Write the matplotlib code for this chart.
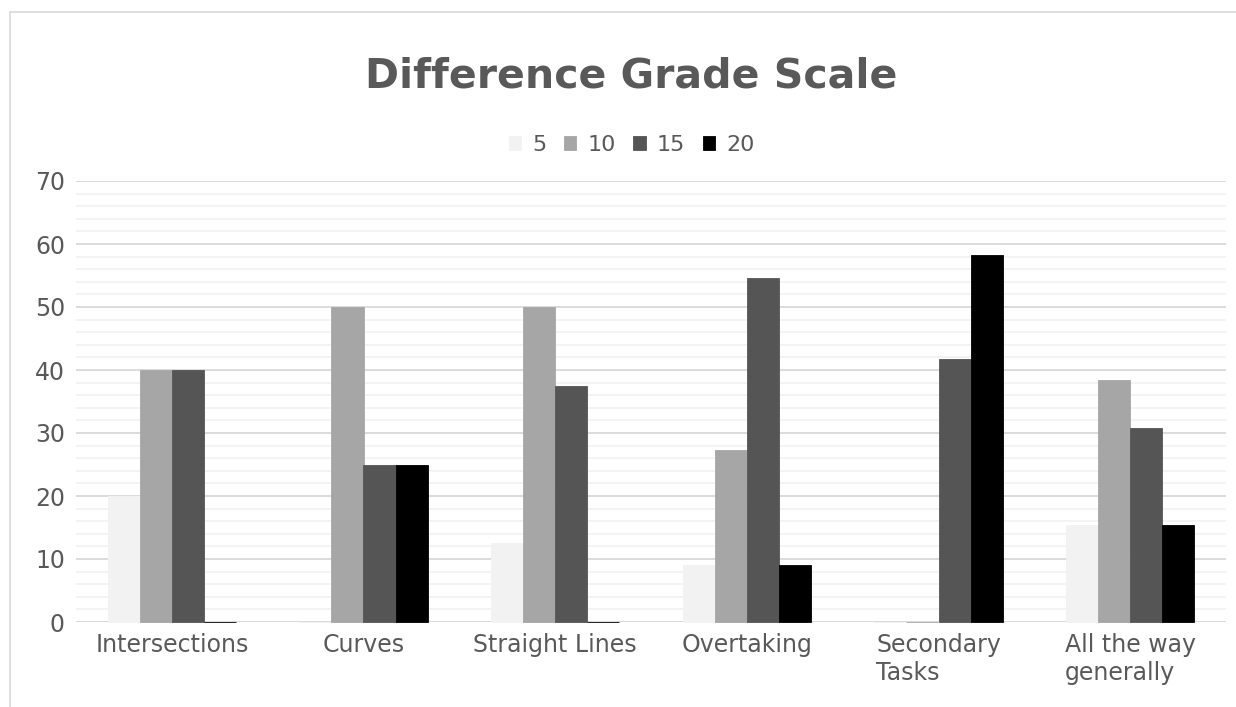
import matplotlib.pyplot as plt
import numpy as np
from matplotlib.patches import Rectangle

# data (percent of answers)
categories = ['Intersections', 'Curves', 'Straight Lines', 'Overtaking',
              'Secondary\nTasks', 'All the way\ngenerally']
series_names = ['5', '10', '15', '20']
grade_5 = [20, 0, 12.5, 9.09, 0, 15.38]
grade_10 = [40, 50, 50, 27.27, 0, 38.46]
grade_15 = [40, 25, 37.5, 54.55, 41.67, 30.77]
grade_20 = [0, 25, 0, 9.09, 58.33, 15.38]
colors = ['#f2f2f2', '#a6a6a6', '#555555', '#000000']

TEXT = '#595959'

fig = plt.figure(figsize=(12.36, 7.07), dpi=100)
ax = fig.add_axes([76 / 1236, 85 / 707, 1150 / 1236, 441 / 707])

# chart border like the spreadsheet frame
fig.patches.append(Rectangle((10 / 1236, -0.05), 1.1, 1 - 12 / 707 + 0.05,
                             transform=fig.transFigure, fill=False,
                             edgecolor='#d9d9d9', linewidth=1.2))

x = np.arange(len(categories))
w = 0.167
all_series = [grade_5, grade_10, grade_15, grade_20]
for i, (name, vals) in enumerate(zip(series_names, all_series)):
    ax.bar(x + (i - 1.5) * w, vals, width=w, color=colors[i],
           edgecolor=colors[i], linewidth=0.6, label=name, zorder=3,
           clip_on=False)

ax.set_xlim(-0.5, len(categories) - 0.5)
ax.set_ylim(0, 70)
ax.set_yticks(range(0, 71, 10))
ax.set_yticks(range(0, 71, 2), minor=True)
ax.grid(axis='y', which='major', color='#d9d9d9', linewidth=1.3, zorder=1)
ax.grid(axis='y', which='minor', color='#f2f2f2', linewidth=1.3, zorder=0)
for s in ax.spines.values():
    s.set_visible(False)
ax.axhline(0, color='#d9d9d9', linewidth=1.3, zorder=2)

ax.set_xticks(x)
ax.set_xticklabels(categories)
for lbl in ax.get_xticklabels():
    lbl.set_multialignment('left')
    lbl.set_linespacing(1.2)
ax.tick_params(axis='both', which='both', length=0, labelsize=17,
               labelcolor=TEXT)
ax.tick_params(axis='y', pad=8)
ax.tick_params(axis='x', pad=8)

fig.text(0.511, 1 - 88 / 707, 'Difference Grade Scale', ha='center',
         va='baseline', fontsize=29.5, fontweight='bold', color=TEXT)

leg = fig.legend(loc='center', bbox_to_anchor=(0.511, 1 - 145 / 707), ncol=4,
                 frameon=False, fontsize=16, handlelength=0.55,
                 handleheight=0.55, handletextpad=0.5, columnspacing=0.8)
for t in leg.get_texts():
    t.set_color(TEXT)

fig.savefig('out.png', dpi=100, facecolor='white')
